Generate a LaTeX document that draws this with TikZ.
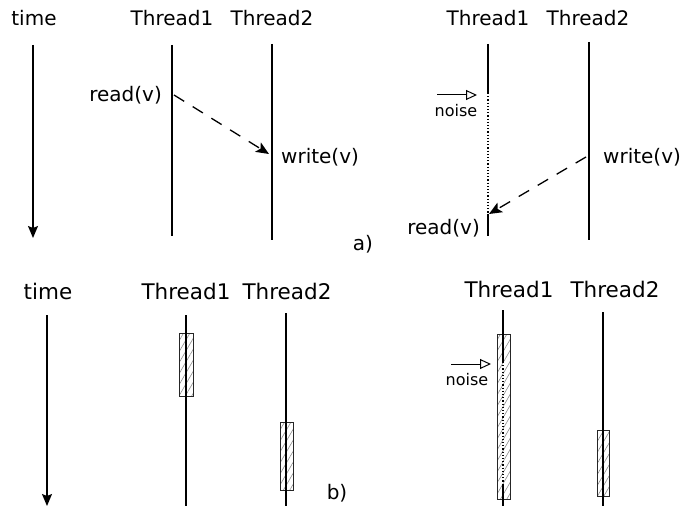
\documentclass[tikz,border=0pt]{standalone}
\usepackage{fontspec}
\setmainfont{DejaVu Sans}
\usepackage{tikz}
\usetikzlibrary{arrows.meta,positioning,patterns.meta}

\tikzset{
    thread/.style={line width=1.5pt},
    lbl/.style={inner sep=0pt,font=\fontsize{20}{24}\selectfont},
    lblb/.style={inner sep=0pt,font=\fontsize{21.5}{26}\selectfont},
    small/.style={inner sep=0pt,font=\fontsize{16}{19}\selectfont},
    timearrow/.style={-{Stealth[length=12pt,width=10pt,inset=2pt]},line width=1.3pt},
    msg/.style={-{Stealth[length=13pt,width=11pt,inset=3pt]},line width=1.3pt,dash pattern=on 12pt off 10pt},
    noisearrow/.style={-{Triangle[open,length=11pt,width=10pt]},line width=1pt},
    crit/.style={draw=black!85,line width=1pt,fill=white,pattern={Lines[angle=60,distance=5.5pt,line width=0.6pt]},pattern color=black!45}
}

\begin{document}
\begin{tikzpicture}[x=1pt,y=-1pt]
\useasboundingbox (0,0) rectangle (686,508);

% a) left: no noise
\begin{scope}
    \node[lbl] (timeA) at (34,18) {time};
    \node[lbl] (tA1) at (172,18) {Thread1};
    \node[lbl] (tA2) at (272,18) {Thread2};
    \draw[timearrow] (33,45) -- (33,238);
    \draw[thread] (172,45) -- (172,236);
    \draw[thread] (272,44) -- (272,240);
    \coordinate (rdA) at (174,95);
    \coordinate (wrA) at (269,154);
    \node[lbl,anchor=east] (readA) at (162,95) {read(v)};
    \node[lbl,anchor=west] (writeA) at (281,157) {write(v)};
    \draw[msg] (rdA) -- (wrA);
    \node[lbl] (labA) at (363,244) {a)};
\end{scope}

% a) right: noise delays the read
\begin{scope}
    \node[lbl] (tB1) at (488,18) {Thread1};
    \node[lbl] (tB2) at (588,18) {Thread2};
    \draw[thread] (488,44) -- (488,93);
    \draw[line width=1.2pt,dotted] (488,93) -- (488,214);
    \draw[thread] (488,214) -- (488,236);
    \draw[thread] (589,42) -- (589,240);
    \coordinate (nzA) at (437,95);
    \coordinate (nzB) at (477,95);
    \draw[noisearrow] (nzA) -- (nzB);
    \node[small] (noiseB) at (456,111) {noise};
    \coordinate (wrB) at (586,157);
    \coordinate (rdB) at (489,214);
    \draw[msg] (wrB) -- (rdB);
    \node[lbl,anchor=west] (writeB) at (603,157) {write(v)};
    \node[lbl,anchor=east] (readB) at (480,228) {read(v)};
\end{scope}

% b) left: critical sections
\begin{scope}
    \node[lblb] (timeC) at (48,291) {time};
    \node[lblb] (tC1) at (186,291) {Thread1};
    \node[lblb] (tC2) at (287,291) {Thread2};
    \draw[timearrow] (47,315) -- (47,506);
    \draw[crit] (179,333) rectangle (193,396);
    \draw[crit] (280,422) rectangle (293,490);
    \draw[thread] (186,315) -- (186,506);
    \draw[thread] (286,313) -- (286,506);
    \node[lbl] (labB) at (337,493) {b)};
\end{scope}

% b) right: noise stretches the critical section
\begin{scope}
    \node[lblb] (tD1) at (509,289) {Thread1};
    \node[lblb] (tD2) at (615,289) {Thread2};
    \draw[crit] (497,334) rectangle (510,499);
    \draw[crit] (597,430) rectangle (609,496);
    \draw[thread] (503,310) -- (503,362);
    \draw[line width=1.2pt,dotted] (503,362) -- (503,484);
    \draw[thread] (503,484) -- (503,506);
    \draw[thread] (603,312) -- (603,506);
    \coordinate (nzC) at (451,364);
    \coordinate (nzD) at (491,364);
    \draw[noisearrow] (nzC) -- (nzD);
    \node[small] (noiseD) at (467,380) {noise};
\end{scope}
\end{tikzpicture}
\end{document}
